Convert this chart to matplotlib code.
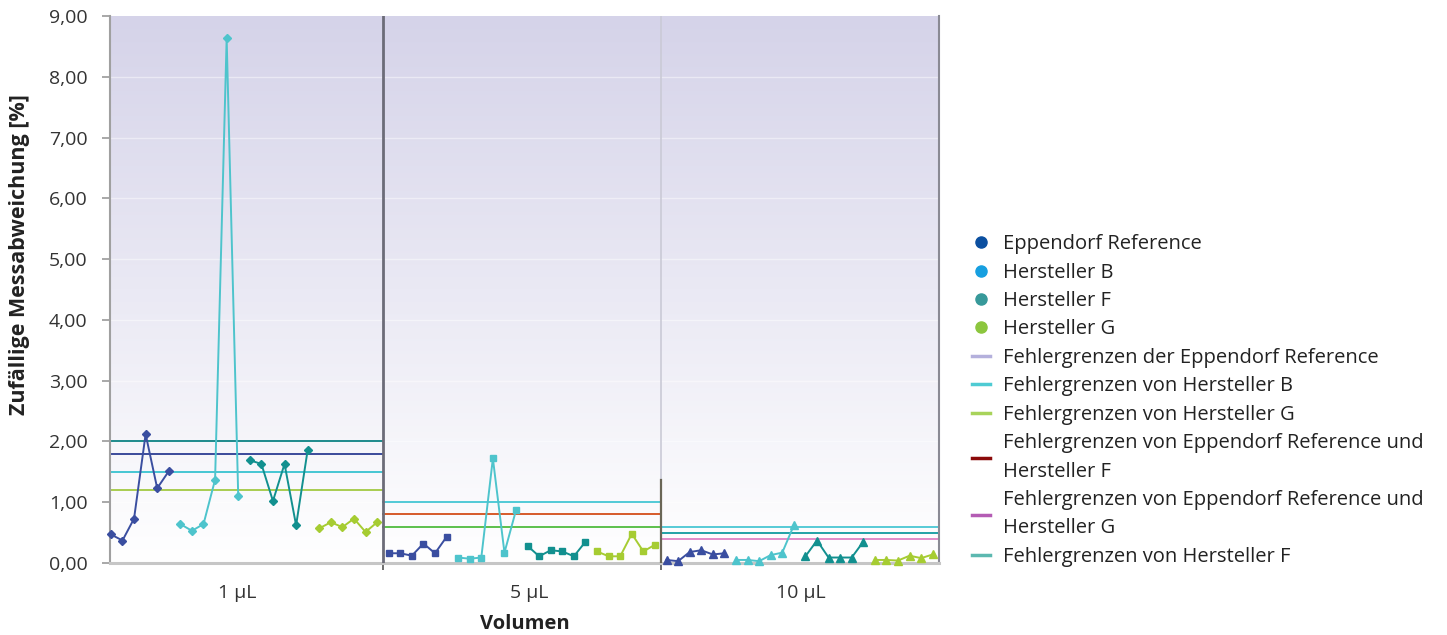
import numpy as np
import matplotlib
matplotlib.use("Agg")
import matplotlib.pyplot as plt
from matplotlib.lines import Line2D
from matplotlib.ticker import FuncFormatter

plt.rcParams["font.family"] = ["Open Sans", "DejaVu Sans"]

volumes = ["1 µL", "5 µL", "10 µL"]
n_per_group = 6

# random deviation [%] per manufacturer, one list per volume
eppendorf = [[0.47, 0.37, 0.73, 2.12, 1.23, 1.51],
             [0.16, 0.16, 0.12, 0.32, 0.16, 0.43],
             [0.05, 0.03, 0.18, 0.21, 0.14, 0.16]]
hersteller_b = [[0.64, 0.53, 0.64, 1.37, 8.63, 1.10],
                [0.09, 0.07, 0.09, 1.72, 0.17, 0.87],
                [0.05, 0.05, 0.03, 0.13, 0.17, 0.62]]
hersteller_f = [[1.69, 1.63, 1.02, 1.63, 0.62, 1.86],
                [0.28, 0.11, 0.21, 0.19, 0.11, 0.35],
                [0.11, 0.37, 0.09, 0.09, 0.09, 0.35]]
hersteller_g = [[0.57, 0.67, 0.59, 0.73, 0.51, 0.67],
                [0.19, 0.11, 0.11, 0.48, 0.19, 0.30],
                [0.05, 0.05, 0.04, 0.12, 0.08, 0.14]]

# error limits per volume
limits = [[2.0, 1.8, 1.5, 1.2],
          [1.0, 0.8, 0.6],
          [0.6, 0.5, 0.4]]
limit_colors = [["#1e8a8c", "#3a4a9a", "#45c6d2", "#a8cc50"],
                ["#52cad6", "#d65a2a", "#5cc04c"],
                ["#56cad6", "#22a2a6", "#e08ac8"]]

series = [eppendorf, hersteller_b, hersteller_f, hersteller_g]
series_colors = ["#3a4ea0", "#4ec4cc", "#12908f", "#a6cc32"]
markers = ["D", "s", "^"]
msizes = [4.5, 4.5, 5.2]

fig = plt.figure(figsize=(14.47, 6.35), dpi=100)
ax = fig.add_axes([0.076, 0.1134, 0.573, 0.8614])

group_w = len(series) * n_per_group
xmin, xmax = -0.08, 3 * group_w - 0.45
ax.set_xlim(xmin, xmax)
ax.set_ylim(0, 9)

# lavender-to-white background
grad = np.linspace(1, 0, 256).reshape(-1, 1)
top = np.array([213, 211, 233]) / 255
img = np.ones((256, 1, 3)) - grad[..., None] * (1 - top)
ax.imshow(img, extent=[xmin, xmax, 0, 9], aspect="auto", zorder=0, origin="upper")

for yv in range(1, 9):
    ax.axhline(yv, color="white", lw=1, alpha=0.45, zorder=1)

for v in range(3):
    x0 = v * group_w - 0.5
    x1 = (v + 1) * group_w - 0.5
    for val, col in zip(limits[v], limit_colors[v]):
        ax.plot([max(x0, xmin), min(x1, xmax)], [val, val], color=col, lw=1.4, zorder=2)
    for s, (data, col) in enumerate(zip(series, series_colors)):
        xs = v * group_w + s * n_per_group + np.arange(n_per_group)
        ax.plot(xs, data[v], color=col, lw=1.4, marker=markers[v],
                ms=msizes[v], zorder=3, clip_on=False)

# group dividers
ax.axvline(group_w - 0.5, color="#6c6c78", lw=2, zorder=4)
ax.axvline(2 * group_w - 0.5, color="#cacad6", lw=1.2, zorder=4)
ax.plot([2 * group_w - 0.5] * 2, [0, 1.36], color="#6a6656", lw=1.6, zorder=4)

ax.set_yticks(range(10))
ax.yaxis.set_major_formatter(FuncFormatter(lambda v, p: f"{v:.2f}".replace(".", ",")))
ax.tick_params(axis="y", length=6, width=1.2, color="#9a9a9a", labelsize=14,
               labelcolor="#333333", pad=10)

ax.set_xticks([10.9, 36.1, 59.6])
ax.set_xticklabels(volumes)
ax.set_xticks([group_w - 0.5, 2 * group_w - 0.5], minor=True)
ax.tick_params(axis="x", which="major", length=0, labelsize=14, labelcolor="#333333", pad=15)
ax.tick_params(axis="x", which="minor", length=5, width=1.2, color="#555555")

ax.spines["top"].set_visible(False)
ax.spines["left"].set_color("#a0a0a0")
ax.spines["left"].set_linewidth(1.5)
ax.spines["right"].set_color("#8a8a94")
ax.spines["right"].set_linewidth(1.5)
ax.spines["bottom"].set_color("#c6c6c6")
ax.spines["bottom"].set_linewidth(2.2)

ax.set_xlabel("Volumen", fontsize=14.5, fontweight="bold", color="#222222", labelpad=9)
ax.set_ylabel("Zufällige Messabweichung [%]", fontsize=15.5, fontweight="bold", color="#222222")
ax.yaxis.set_label_coords(-0.097, 0.563)

handles = [
    Line2D([], [], ls="none", marker="o", ms=8, color="#0b4fa0"),
    Line2D([], [], ls="none", marker="o", ms=8, color="#169fe0"),
    Line2D([], [], ls="none", marker="o", ms=8, color="#37999a"),
    Line2D([], [], ls="none", marker="o", ms=8, color="#8cc63e"),
    Line2D([], [], color="#b4b0dc", lw=2.5),
    Line2D([], [], color="#4ecbd3", lw=2.5),
    Line2D([], [], color="#a8d35a", lw=2.5),
    Line2D([], [], color="#8b0a0a", lw=2.5),
    Line2D([], [], color="#b45cb4", lw=2.5),
    Line2D([], [], color="#5cb8b0", lw=2.5),
]
labels = [
    "Eppendorf Reference",
    "Hersteller B",
    "Hersteller F",
    "Hersteller G",
    "Fehlergrenzen der Eppendorf Reference",
    "Fehlergrenzen von Hersteller B",
    "Fehlergrenzen von Hersteller G",
    "Fehlergrenzen von Eppendorf Reference und\nHersteller F",
    "Fehlergrenzen von Eppendorf Reference und\nHersteller G",
    "Fehlergrenzen von Hersteller F",
]
leg = fig.legend(handles, labels, loc="upper left", bbox_to_anchor=(0.666, 0.644),
                 frameon=False, fontsize=14.5, handlelength=0.9, handletextpad=0.65,
                 labelspacing=0.42, borderaxespad=0)
for t in leg.get_texts():
    t.set_color("#222222")
    t.set_linespacing(1.55)

fig.savefig("out.png", dpi=100)
